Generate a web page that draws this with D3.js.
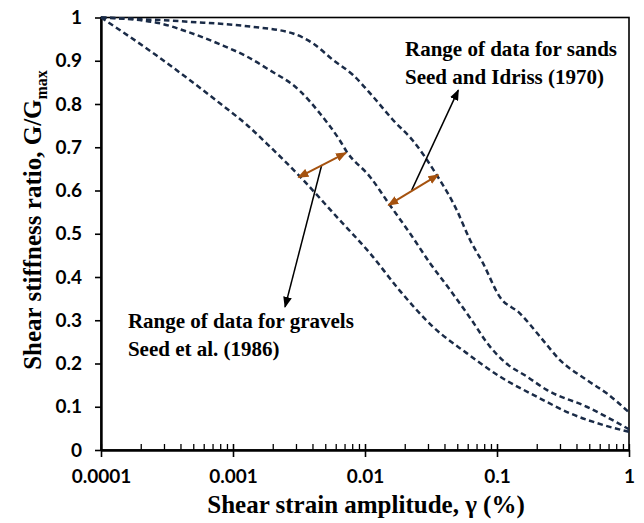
<!DOCTYPE html>
<html>
<head>
<meta charset="utf-8">
<script src="https://cdn.jsdelivr.net/npm/d3@7"></script>
<style>
  html, body { margin: 0; padding: 0; background: #fff; }
  svg { display: block; }
</style>
</head>
<body>
<svg id="chart" width="644" height="523"></svg>
<script>
// ---------------- DATA ----------------
const xTickValues = [0.0001, 0.001, 0.01, 0.1, 1];
const xTickLabels = ["0.0001", "0.001", "0.01", "0.1", "1"];
const yTickValues = [0, 0.1, 0.2, 0.3, 0.4, 0.5, 0.6, 0.7, 0.8, 0.9, 1];
const yTickLabels = ["0", "0.1", "0.2", "0.3", "0.4", "0.5", "0.6", "0.7", "0.8", "0.9", "1"];

// Upper bound (sands)
const strainUpper = [0.0001, 0.000472, 0.00135, 0.00285, 0.00404, 0.00572, 0.00811, 0.0115, 0.0163, 0.0231, 0.0349, 0.0495, 0.0624, 0.0783, 0.105, 0.149, 0.212, 0.300, 0.478, 0.678, 1.0];
const ratioUpper  = [1.0, 0.990, 0.979, 0.963, 0.940, 0.902, 0.867, 0.817, 0.763, 0.715, 0.636, 0.555, 0.486, 0.432, 0.354, 0.316, 0.262, 0.208, 0.162, 0.131, 0.087];

// Middle curve (lower bound sands / upper bound gravels)
const strainMiddle = [0.0001, 0.000264, 0.000472, 0.00084, 0.00127, 0.00181, 0.00322, 0.00456, 0.00647, 0.00726, 0.0109, 0.01545, 0.0219, 0.0311, 0.0441, 0.0624, 0.0885, 0.118, 0.168, 0.238, 0.478, 1.0];
const ratioMiddle  = [1.0, 0.988, 0.965, 0.935, 0.910, 0.882, 0.830, 0.778, 0.715, 0.690, 0.632, 0.566, 0.501, 0.432, 0.370, 0.306, 0.239, 0.200, 0.170, 0.139, 0.100, 0.048];

// Lower bound (gravels)
const strainLower = [0.0001, 0.000264, 0.000472, 0.00084, 0.00127, 0.00181, 0.00322, 0.00611, 0.0109, 0.0184, 0.0327, 0.0589, 0.105, 0.201, 0.357, 0.635, 1.0];
const ratioLower  = [1.0, 0.912, 0.855, 0.796, 0.752, 0.708, 0.632, 0.539, 0.455, 0.368, 0.285, 0.224, 0.170, 0.123, 0.085, 0.058, 0.042];

// Annotations (data coordinates)
const gravelText = ["Range of data for gravels", "Seed et al. (1986)"];
const gravelTextAt = [0.00016, 0.282];
const gravelRange = [[0.00313, 0.6305], [0.00718, 0.687]];
const gravelPointer = [[0.0047, 0.659], [0.00248, 0.331]];

const sandText = ["Range of data for sands", "Seed and Idriss (1970)"];
const sandTextAt = [0.0201, 0.912];
const sandRange = [[0.01503, 0.566], [0.0359, 0.636]];
const sandPointer = [[0.0226, 0.601], [0.0509, 0.832]];

// ---------------- CHART ----------------
const svg = d3.select("#chart");
const plotL = 101, plotR = 629, plotT = 17.5, plotB = 450;

const x = d3.scaleLog().domain([0.0001, 1]).range([plotL, plotR]);
const y = d3.scaleLinear().domain([0, 1]).range([plotB, plotT]);

const tickFont = "Lato, 'Open Sans', Arial, sans-serif";
const serif = "'Liberation Serif', 'Times New Roman', serif";

// plot frame (top & right)
svg.append("rect")
  .attr("x", plotL).attr("y", plotT)
  .attr("width", plotR - plotL).attr("height", plotB - plotT)
  .attr("fill", "none").attr("stroke", "#000").attr("stroke-width", 1.6);

// minor ticks (upwards, inside)
const minorVals = [];
for (let e = -4; e < 0; e++) for (let m = 1; m <= 10; m++) minorVals.push(m * Math.pow(10, e));
const minorAxis = svg.append("g").attr("transform", `translate(0,${plotB})`)
  .call(d3.axisBottom(x).tickValues(minorVals).tickSizeInner(-6).tickSizeOuter(0).tickFormat(""));
minorAxis.select(".domain").remove();
minorAxis.selectAll("line").attr("stroke", "#000").attr("stroke-width", 1.3);

// major x ticks (downward) + labels
const xAxis = svg.append("g").attr("transform", `translate(0,${plotB})`)
  .call(d3.axisBottom(x).tickValues(xTickValues).tickSizeInner(7).tickSizeOuter(0)
    .tickFormat((d, i) => xTickLabels[i]));
xAxis.select(".domain").attr("stroke", "#000").attr("stroke-width", 2.4);
xAxis.selectAll(".tick line").attr("stroke", "#000").attr("stroke-width", 1.6);
xAxis.selectAll(".tick text")
  .attr("y", 33).attr("dy", 0)
  .attr("fill", "#000")
  .style("font-family", tickFont).style("font-weight", "700").style("font-size", "19px");

// y axis
const yAxis = svg.append("g").attr("transform", `translate(${plotL},0)`)
  .call(d3.axisLeft(y).tickValues(yTickValues).tickSizeInner(6).tickSizeOuter(0)
    .tickFormat((d, i) => yTickLabels[i]));
yAxis.select(".domain").attr("stroke", "#000").attr("stroke-width", 2.4);
yAxis.selectAll(".tick line").attr("stroke", "#000").attr("stroke-width", 1.6);
yAxis.selectAll(".tick text")
  .attr("x", -19)
  .attr("fill", "#000")
  .style("font-family", tickFont).style("font-weight", "700").style("font-size", "19px");

// curves
const line = d3.line()
  .x(d => x(d[0])).y(d => y(d[1]))
  .curve(d3.curveMonotoneX);

[[strainUpper, ratioUpper], [strainMiddle, ratioMiddle], [strainLower, ratioLower]].forEach(([xs, ys]) => {
  svg.append("path")
    .datum(xs.map((v, i) => [v, ys[i]]))
    .attr("d", line)
    .attr("fill", "none")
    .attr("stroke", "#1a2b47")
    .attr("stroke-width", 2.5)
    .attr("stroke-dasharray", "5.5,3.5");
});

// markers
const defs = svg.append("defs");
defs.append("marker").attr("id", "headOrange")
  .attr("viewBox", "0 0 10 8").attr("refX", 9).attr("refY", 4)
  .attr("markerWidth", 11).attr("markerHeight", 9)
  .attr("markerUnits", "userSpaceOnUse").attr("orient", "auto-start-reverse")
  .append("path").attr("d", "M0,0 L10,4 L0,8 Z").attr("fill", "#a5520f");
defs.append("marker").attr("id", "headBlack")
  .attr("viewBox", "0 0 10 8").attr("refX", 9).attr("refY", 4)
  .attr("markerWidth", 11).attr("markerHeight", 9)
  .attr("markerUnits", "userSpaceOnUse").attr("orient", "auto")
  .append("path").attr("d", "M0,0 L10,4 L0,8 Z").attr("fill", "#000");

function segment(pts, color, w, startMarker, endMarker) {
  const p = svg.append("line")
    .attr("x1", x(pts[0][0])).attr("y1", y(pts[0][1]))
    .attr("x2", x(pts[1][0])).attr("y2", y(pts[1][1]))
    .attr("stroke", color).attr("stroke-width", w);
  if (startMarker) p.attr("marker-start", `url(#${startMarker})`);
  if (endMarker) p.attr("marker-end", `url(#${endMarker})`);
}
segment(gravelPointer, "#000", 1.5, null, "headBlack");
segment(sandPointer, "#000", 1.5, null, "headBlack");
segment(gravelRange, "#a5520f", 2, "headOrange", "headOrange");
segment(sandRange, "#a5520f", 2, "headOrange", "headOrange");

function annot(lines, at) {
  const t = svg.append("text")
    .attr("x", x(at[0])).attr("y", y(at[1]))
    .attr("fill", "#000")
    .style("font-family", serif).style("font-weight", "700").style("font-size", "21px");
  lines.forEach((s, i) => {
    t.append("tspan").attr("x", x(at[0])).attr("dy", i === 0 ? 0 : 28).text(s);
  });
}
annot(gravelText, gravelTextAt);
annot(sandText, sandTextAt);

// axis titles
svg.append("text")
  .attr("x", 366).attr("y", 513)
  .attr("text-anchor", "middle")
  .attr("fill", "#000")
  .style("font-family", serif).style("font-weight", "700").style("font-size", "25px")
  .text("Shear strain amplitude, γ (%)");

const yt = svg.append("text")
  .attr("transform", "translate(41,220) rotate(-90)")
  .attr("text-anchor", "middle")
  .attr("fill", "#000")
  .style("font-family", serif).style("font-weight", "700").style("font-size", "25px");
yt.append("tspan").text("Shear stiffness ratio, G/G");
yt.append("tspan").attr("dy", 6).style("font-size", "16px").text("max");
</script>
</body>
</html>
